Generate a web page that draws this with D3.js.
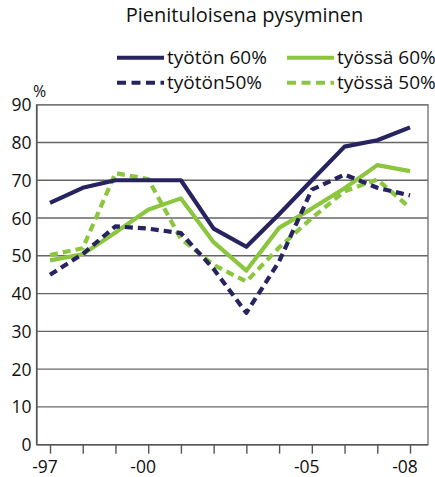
<!DOCTYPE html>
<html><head><meta charset="utf-8">
<script src="https://cdn.jsdelivr.net/npm/d3@7/dist/d3.min.js"></script>
<style>body{margin:0;background:#fff}svg{display:block}text{font-family:"Open Sans",sans-serif;fill:#111}</style>
</head><body>
<svg id="c" width="435" height="477"></svg>
<script>
const years = [1997,1998,1999,2000,2001,2002,2003,2004,2005,2006,2007,2008];
const tyoton60 = [64,68,70,70,70,57.2,52.4,61,70,78.9,80.6,84];
const tyossa60 = [48.8,50.4,56.2,62.2,65.2,53.6,46.1,57.4,62.5,67.9,74,72.4];
const tyoton50 = [45,50.5,57.8,57.2,56,46.5,34.9,48.5,67.5,71.5,68,66];
const tyossa50 = [50.2,52,71.9,70.3,54.5,47.6,43.2,52.2,60,67.1,70.2,62.7];
const tickYears = [1997,2000,2005,2008];
const tickLabels = ["-97","-00","-05","-08"];
const yTicks = [0,10,20,30,40,50,60,70,80,90];
const seriesNames = ["työtön 60%","työssä 60%","työtön50%","työssä 50%"];

const navy = "#26235e", green = "#8cc63f";
const series = [
  {name: seriesNames[0], values: tyoton60, color: navy, dash: null},
  {name: seriesNames[1], values: tyossa60, color: green, dash: null},
  {name: seriesNames[2], values: tyoton50, color: navy, dash: "8,5"},
  {name: seriesNames[3], values: tyossa50, color: green, dash: "8,5"}
];

const svg = d3.select("#c");
const L = 36.7, R = 428, T = 104.7, B = 444.7;
const x = d3.scaleLinear().domain([1997,2008]).range([50,410]);
const y = d3.scaleLinear().domain([0,90]).range([B,T]);

svg.append("text").attr("x",244.5).attr("y",22).attr("text-anchor","middle")
  .style("font-size","20px").text("Pienituloisena pysyminen");

// gridlines
svg.append("g").selectAll("line").data(yTicks.filter(d=>d>0)).join("line")
  .attr("x1",L).attr("x2",R).attr("y1",d=>y(d)).attr("y2",d=>y(d))
  .attr("stroke","#666").attr("stroke-width",1.4);

// frame
svg.append("rect").attr("x",L).attr("y",T).attr("width",R-L).attr("height",B-T)
  .attr("fill","none").attr("stroke","#777").attr("stroke-width",1.4);
svg.append("line").attr("x1",L).attr("x2",L).attr("y1",T).attr("y2",B).attr("stroke","#555").attr("stroke-width",1.6);
svg.append("line").attr("x1",L).attr("x2",R).attr("y1",B).attr("y2",B).attr("stroke","#555").attr("stroke-width",1.6);

// y labels
svg.append("g").selectAll("text").data(yTicks).join("text")
  .attr("x",31.5).attr("y",d=>y(d)+6.5).attr("text-anchor","end")
  .style("font-size","17.5px").text(d=>d);
svg.append("text").attr("x",33).attr("y",97).style("font-size","16px").text("%");

// x axis ticks
const xAxis = d3.axisBottom(x).tickValues(years).tickSize(9).tickFormat("");
const gx = svg.append("g").attr("transform",`translate(0,${B})`).call(xAxis);
gx.select(".domain").remove();
gx.selectAll("line").attr("stroke","#555").attr("stroke-width",1.4);
svg.append("g").selectAll("text").data(tickYears).join("text")
  .attr("x",d=>x(d)-5).attr("y",472.5).attr("text-anchor","middle")
  .style("font-size","17.5px").text((d,i)=>tickLabels[i]);

// lines
const line = d3.line().x((d,i)=>x(years[i])).y(d=>y(d));
[series[3],series[1],series[2],series[0]].forEach(s=>{
  svg.append("path").attr("d",line(s.values)).attr("fill","none")
    .attr("stroke",s.color).attr("stroke-width",4.2)
    .attr("stroke-dasharray",s.dash).attr("stroke-linejoin","round");
});

// legend
const legPos = [[117,57.7],[287,57.7],[117,82.7],[287,82.7]];
series.forEach((s,i)=>{
  const [lx,ly] = legPos[i];
  svg.append("line").attr("x1",lx).attr("x2",lx+47).attr("y1",ly).attr("y2",ly)
    .attr("stroke",s.color).attr("stroke-width",4).attr("stroke-dasharray",s.dash ? "9,5.5" : null);
  svg.append("text").attr("x",lx+50).attr("y",ly+6.5).style("font-size","19px").text(s.name);
});
</script>
</body></html>
